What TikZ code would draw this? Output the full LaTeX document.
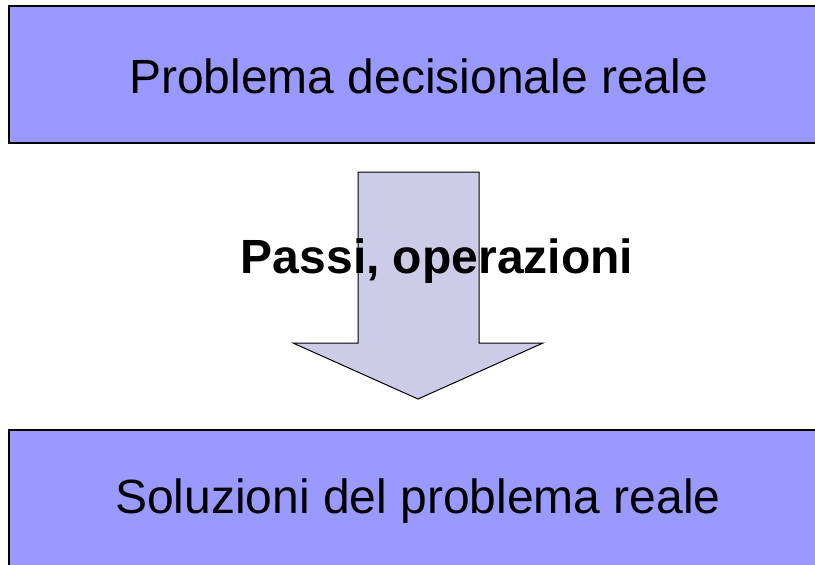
\documentclass[tikz,border=0pt]{standalone}
\usepackage{fontspec}
\setmainfont{Liberation Sans}
\usetikzlibrary{calc}
\definecolor{boxblue}{RGB}{153,153,255}
\definecolor{arrowlilac}{RGB}{204,204,232}

\begin{document}
\begin{tikzpicture}[x=0.5pt, y=-0.5pt]
%styles
\tikzstyle{realbox}=[rectangle, draw=black, line width=1pt, fill=boxblue, inner sep=0pt,
  minimum width=409pt, minimum height=68.5pt]
\tikzstyle{boxtext}=[rectangle, text=black, inner sep=0pt, anchor=base, font=\fontsize{24}{28}\selectfont]
\tikzstyle{textLine}=[rectangle, text=black, inner sep=0pt, anchor=base, font=\fontsize{24}{28}\selectfont\bfseries]
\tikzstyle{bigarrow}=[draw=black, line width=0.5pt, fill=arrowlilac, line join=miter]

\clip (0,0) rectangle (815,564);
\fill[white] (0,0) rectangle (815,564);

%boxes
\node[realbox] (prob) at (418,74.5) {};
\node[realbox] (sol) at (418,498.5) {};
\node[boxtext] (probtext) at (418.5,93) {Problema decisionale reale};
\node[boxtext] (soltext) at (418,513) {Soluzioni del problema reale};

%arrow
\coordinate (top) at (418.5,172);
\coordinate (tip) at (418,399);
\draw[bigarrow] ($(top)+(-60.5,0)$) -- ($(top)+(60.5,0)$) -- (479,343) -- (543,343)
  -- (tip) -- (293,343) -- (358,343) -- cycle;

%texts
\node[textLine] (steps) at (437,273) {Passi, operazioni};
\end{tikzpicture}
\end{document}
